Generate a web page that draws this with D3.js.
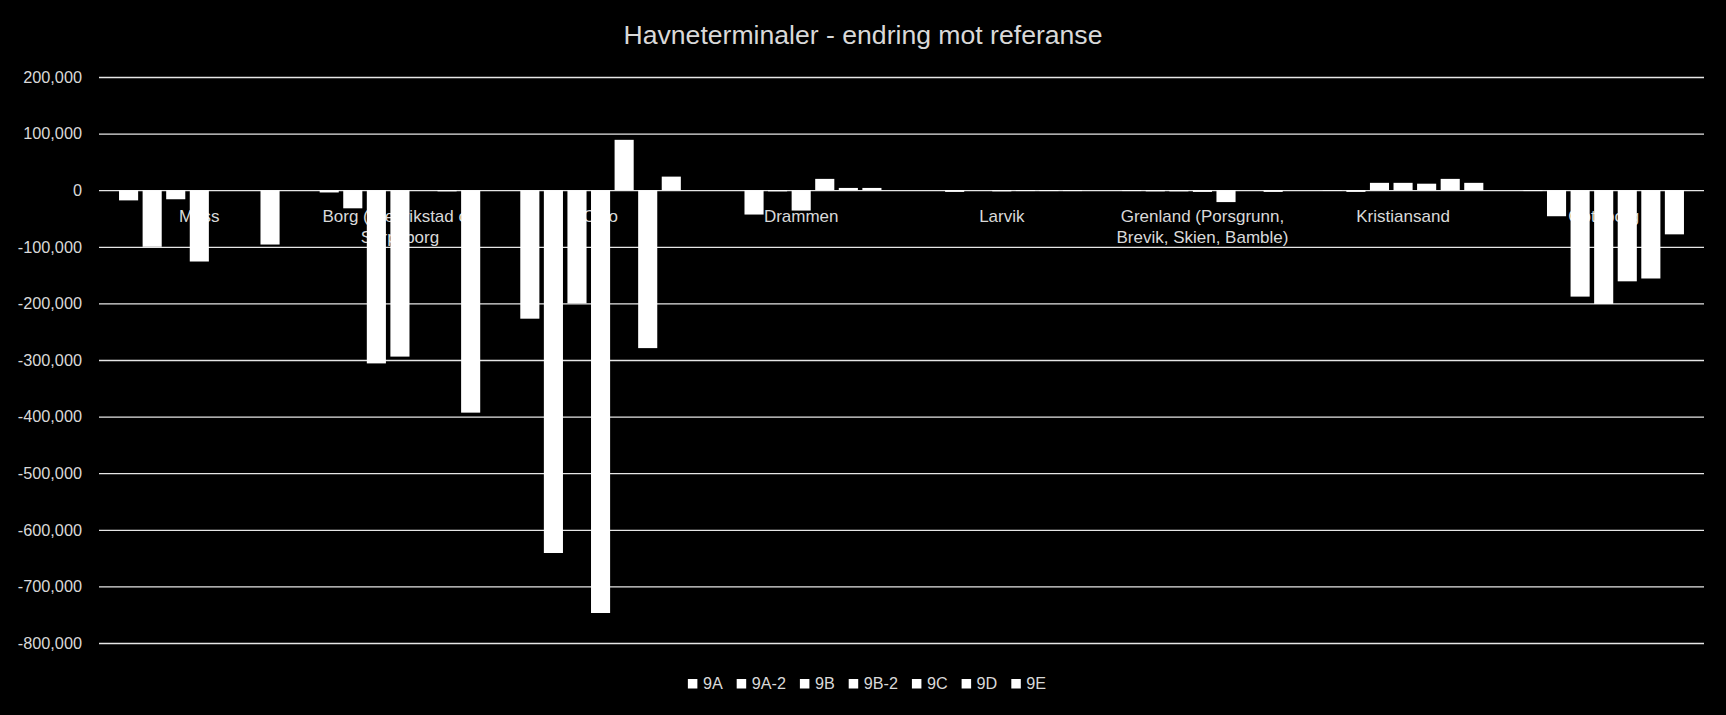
<!DOCTYPE html>
<html>
<head>
<meta charset="utf-8">
<script src="https://cdn.jsdelivr.net/npm/d3@7"></script>
<style>
  html, body { margin: 0; padding: 0; background: #000; }
  svg { display: block; }
</style>
</head>
<body>
<svg id="chart" width="1726" height="715"></svg>
<script>
// ---- Data ----
const categories = [
  "Moss",
  "Borg (Fredrikstad og Sarpsborg",
  "Oslo",
  "Drammen",
  "Larvik",
  "Grenland (Porsgrunn, Brevik, Skien, Bamble)",
  "Kristiansand",
  "Göteborg"
];
const seriesNames = ["9A", "9A-2", "9B", "9B-2", "9C", "9D", "9E"];
const s9A  = [-18000,   -4000, -227000,      0,     0,  -1500,  -1000,   -1500];
const s9A2 = [-100000, -32000, -641000, -43000, -3000,  -2000,  -3000,  -46000];
const s9B  = [-16000, -306000, -200000,  -2000,     0,  -2000,  13000, -188000];
const s9B2 = [-126000, -294000, -747000, -36000, -2000,  -3000,  13000, -201000];
const s9C  = [0,            0,   89000,  20000, -1500, -21000,  11500, -161000];
const s9D  = [0,        -2000, -279000,   4000, -1500,      0,  20000, -156000];
const s9E  = [-96000, -393000,   24000,   4000, -1500,  -3000,  13000,  -78000];
const seriesValues = [s9A, s9A2, s9B, s9B2, s9C, s9D, s9E];
const yTicks = [200000, 100000, 0, -100000, -200000, -300000, -400000, -500000, -600000, -700000, -800000];
const titleText = "Havneterminaler - endring mot referanse";

// ---- Layout ----
const W = 1726, H = 715;
const plot = { left: 99, right: 1704, top: 77, bottom: 643 };
const textColor = "#d9d9d9";
const font = "'Liberation Sans', Arial, sans-serif";

const svg = d3.select("#chart");
svg.append("rect").attr("width", W).attr("height", H).attr("fill", "#000");

const x0 = d3.scaleBand().domain(categories).range([plot.left, plot.right]).padding(0);
const x1 = d3.scaleBand().domain(seriesNames).range([0, x0.bandwidth()])
  .paddingInner(0.19).paddingOuter(0.85);
const y = d3.scaleLinear().domain([-800000, 200000]).range([plot.bottom, plot.top]);

const fmt = d3.formatLocale({decimal: ".", thousands: ",", grouping: [3], currency: ["", ""], minus: "-"}).format(",");

// Title
svg.append("text")
  .attr("x", W / 2).attr("y", 44)
  .attr("text-anchor", "middle")
  .attr("font-family", font).attr("font-size", 26.6)
  .attr("fill", textColor)
  .text(titleText);

// Gridlines + y axis labels
const yAxis = d3.axisLeft(y).tickValues(yTicks).tickFormat(fmt)
  .tickSize(-(plot.right - plot.left)).tickPadding(17);
const gy = svg.append("g").attr("transform", `translate(${plot.left},0)`).call(yAxis);
gy.select(".domain").remove();
gy.selectAll(".tick line").attr("stroke", "#e6e6e6").attr("stroke-width", 1.3);
gy.selectAll(".tick text")
  .attr("fill", textColor).attr("font-family", font).attr("font-size", 16.3);

// Category labels (drawn behind bars), wrapped like Excel
const labelG = svg.append("g");
const maxW = x0.bandwidth() - 12;
categories.forEach(cat => {
  const cx = x0(cat) + x0.bandwidth() / 2;
  const t = labelG.append("text")
    .attr("x", cx).attr("y", 222)
    .attr("text-anchor", "middle")
    .attr("font-family", font).attr("font-size", 17)
    .attr("fill", textColor);
  const words = cat.split(" ");
  let line = [];
  let lineNo = 0;
  let tspan = t.append("tspan").attr("x", cx).attr("y", 222);
  words.forEach(w => {
    line.push(w);
    tspan.text(line.join(" "));
    if (tspan.node().getComputedTextLength() > maxW && line.length > 1) {
      line.pop();
      tspan.text(line.join(" "));
      line = [w];
      lineNo++;
      tspan = t.append("tspan").attr("x", cx).attr("y", 222 + lineNo * 21).text(w);
    }
  });
});

// Bars
const rows = [];
categories.forEach((cat, ci) => {
  seriesNames.forEach((s, si) => rows.push({cat, s, v: seriesValues[si][ci]}));
});
svg.append("g").selectAll("rect").data(rows).join("rect")
  .attr("x", d => x0(d.cat) + x1(d.s))
  .attr("width", x1.bandwidth())
  .attr("y", d => Math.min(y(d.v), y(0)))
  .attr("height", d => Math.abs(y(d.v) - y(0)))
  .attr("fill", "#ffffff");

// Legend
const legend = svg.append("g");
let lx = 0;
seriesNames.forEach(s => {
  const g = legend.append("g");
  g.append("rect").attr("x", 0).attr("y", -10).attr("width", 9.5).attr("height", 9.5).attr("fill", "#ffffff");
  const tx = g.append("text").attr("x", 15).attr("y", 0)
    .attr("font-family", font).attr("font-size", 16.2).attr("fill", textColor).text(s);
  const w = 15 + tx.node().getComputedTextLength();
  g.attr("transform", `translate(${lx},0)`);
  lx += w + 14;
});
const totalW = lx - 14;
legend.attr("transform", `translate(${W / 2 - totalW / 2 + 4},689)`);
</script>
</body>
</html>
